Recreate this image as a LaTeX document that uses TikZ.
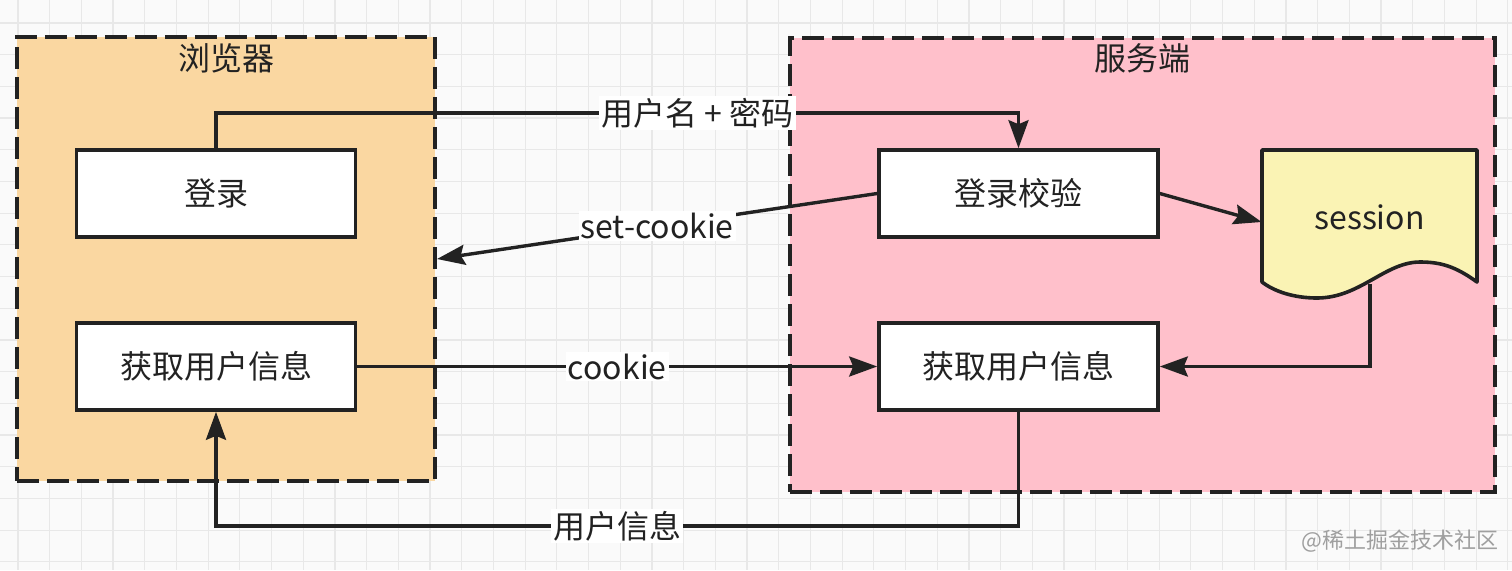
\documentclass[tikz,border=0pt]{standalone}
\usepackage{fontspec}
\setmainfont{Noto Sans CJK SC}
\usetikzlibrary{arrows.meta}

\definecolor{gridcol}{HTML}{E8E8E8}
\definecolor{pagecol}{HTML}{FAFAFA}
\definecolor{browsercol}{HTML}{FAD7A1}
\definecolor{servercol}{HTML}{FFC0CB}
\definecolor{sessioncol}{HTML}{FAF3B4}
\definecolor{inkcol}{HTML}{222222}

\begin{document}
\begin{tikzpicture}[x=0.5pt, y=-0.5pt,
    font=\fontsize{16pt}{19pt}\selectfont, text=inkcol,
    gridline/.style={draw=gridcol, line width=0.6pt},
    zone/.style={draw=inkcol, line width=2pt, dash pattern=on 11pt off 4pt, inner sep=0pt},
    stepbox/.style={draw=inkcol, fill=white, line width=1.8pt, minimum width=139.5pt, minimum height=43.5pt, inner sep=0pt},
    flow/.style={draw=inkcol, line width=1.7pt, -{Stealth[length=14pt, width=10pt, inset=2pt]}},
    tag/.style={fill=white, inner sep=1pt}]

    % page and grid
    \fill[pagecol] (0,0) rectangle (1512,570);
    \useasboundingbox (0,0) rectangle (1512,570);
    \foreach \i in {0,...,47}
        \draw[gridline] ({17.9+31.7*\i},0) -- ++(0,570);
    \foreach \j in {0,...,17}
        \draw[gridline] (0,{22.9+31.7*\j}) -- ++(1512,0);

    % the two zones
    \node[zone, fill=browsercol, minimum width=209pt, minimum height=222pt] (browser) at (226,259) {};
    \node[zone, fill=servercol, minimum width=352.5pt, minimum height=227pt] (server) at (1142.5,265) {};
    \node (browsertitle) at (226,58) {浏览器};
    \node (servertitle) at (1142.5,58) {服务端};

    % steps
    \node[stepbox] (login) at (216,193.5) {登录};
    \node[stepbox] (browserinfo) at (216,366.5) {获取用户信息};
    \node[stepbox] (check) at (1018.5,193.5) {登录校验};
    \node[stepbox] (serverinfo) at (1018.5,366.5) {获取用户信息};

    % session document
    \draw[draw=inkcol, fill=sessioncol, line width=1.8pt, line join=round]
        (1262,150) -- (1477,150) -- (1477,282)
        .. controls (1455,266) and (1440,262) .. (1420,262)
        .. controls (1385,262) and (1360,298) .. (1317,298)
        .. controls (1295,298) and (1275,292) .. (1262,282) -- cycle;
    \node[inner sep=0pt, minimum width=107.5pt, minimum height=72pt] (sess) at (1369.5,222) {};
    \node (sesstext) at (1369.5,217) {session};
    \coordinate (sessfoot) at (1370,284);
    \coordinate (up) at (1018.5,113);

    % messages
    \draw[flow] (login.north) |- node[tag, pos=0.8] {用户名 + 密码} (up) -- (check.north);
    \draw[flow] (check.west) -- node[tag] {set-cookie} (browser.east);
    \draw[flow] (check.east) -- (sess.west);
    \draw[flow] (sessfoot) |- (serverinfo.east);
    \draw[flow] (browserinfo.east) -- node[tag] {cookie} (serverinfo.west);
    \draw[flow] (serverinfo.south) -- ++(0,114) -| node[tag, pos=0.25] {用户信息} (browserinfo.south);

    \node[text=gray!75, font=\fontsize{11pt}{13pt}\selectfont] (mark) at (1400,541) {@稀土掘金技术社区};
\end{tikzpicture}
\end{document}
